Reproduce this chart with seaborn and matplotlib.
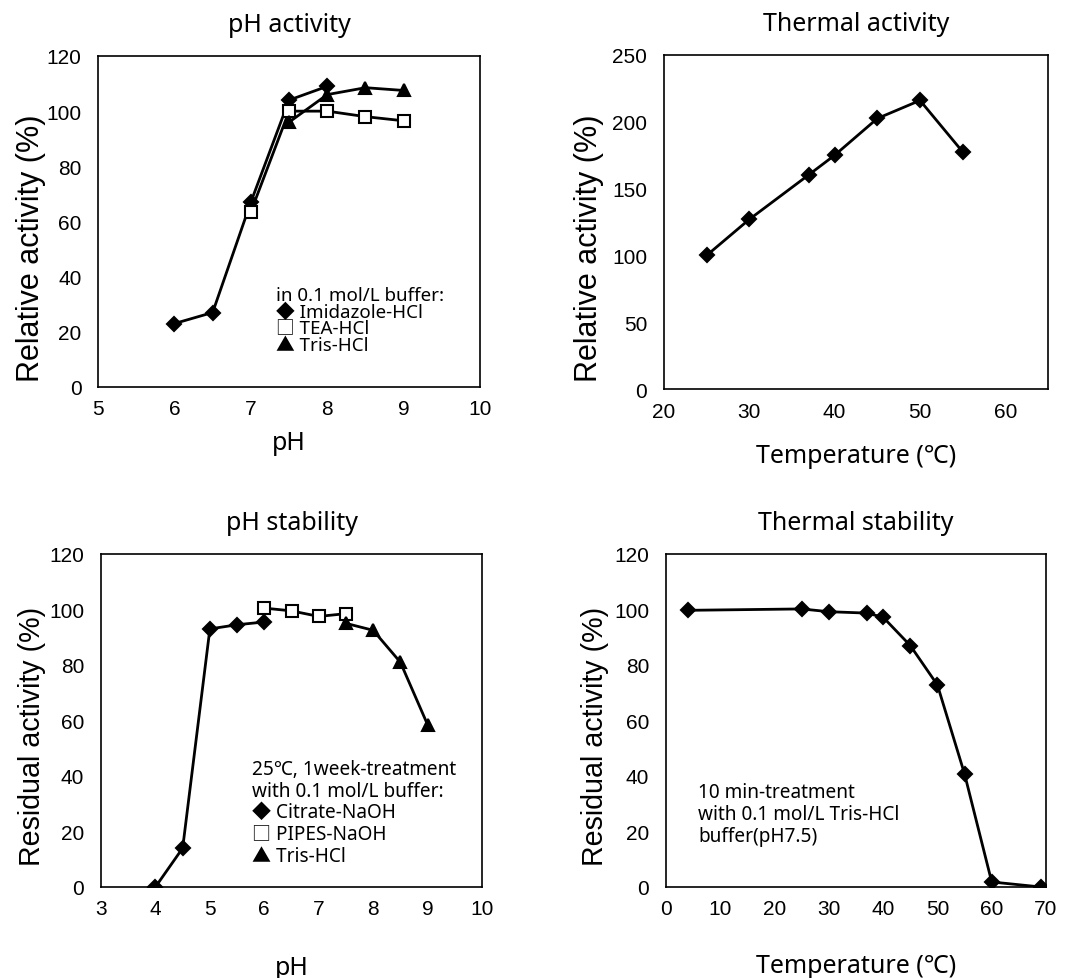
import numpy as np
import pandas as pd
import matplotlib
matplotlib.use('Agg')
import matplotlib.pyplot as plt
from matplotlib.ticker import MultipleLocator
import seaborn as sns

sns.set_style('white')
plt.rcParams['font.family'] = ['Noto Sans', 'Noto Sans CJK JP', 'DejaVu Sans']
plt.rcParams['text.color'] = 'black'
plt.rcParams['axes.labelcolor'] = 'black'
plt.rcParams['xtick.color'] = 'black'
plt.rcParams['ytick.color'] = 'black'

# pH activity
ph_imid_x = [6, 6.5, 7, 7.5, 8]
ph_imid_y = [23, 27, 67, 104, 109]
ph_tea_x = [7, 7.5, 8, 8.5, 9]
ph_tea_y = [63.5, 100, 100, 98, 96.5]
ph_tris_x = [7.5, 8, 8.5, 9]
ph_tris_y = [96, 106, 108.5, 107.5]

# Thermal activity
ta_x = [25, 30, 37, 40, 45, 50, 55]
ta_y = [100, 127, 160.5, 175, 202.5, 216, 177.5]

# pH stability
ps_cit_x = [4, 4.5, 5, 5.5, 6]
ps_cit_y = [0, 14, 93, 94.5, 95.5]
ps_pipes_x = [6, 6.5, 7, 7.5]
ps_pipes_y = [100.5, 99.5, 97.5, 98.5]
ps_tris_x = [7.5, 8, 8.5, 9]
ps_tris_y = [95, 92.5, 81, 58.5]

# Thermal stability
ts_x = [4, 25, 30, 37, 40, 45, 50, 55, 60, 69]
ts_y = [99.7, 100.2, 99.2, 98.7, 97.2, 87, 72.8, 40.7, 1.8, 0]

tick_font = 'Liberation Sans'


def series(ax, x, y, marker, face='black', ms=7):
    sns.lineplot(x=x, y=y, ax=ax, color='black', linewidth=2.0, marker=marker,
                 markersize=ms, markerfacecolor=face, markeredgecolor='black',
                 markeredgewidth=1.5, sort=False)


def style_axis(ax, xlim, ylim, xmaj, xmin, ymaj):
    ax.set_xlim(*xlim)
    ax.set_ylim(*ylim)
    ax.xaxis.set_major_locator(MultipleLocator(xmaj))
    ax.xaxis.set_minor_locator(MultipleLocator(xmin))
    ax.yaxis.set_major_locator(MultipleLocator(ymaj))
    ax.tick_params(axis='x', which='both', direction='in', length=5, width=1,
                   pad=9, labelsize=15)
    ax.tick_params(axis='y', which='both', direction='in', length=4, width=1,
                   pad=12, labelsize=15)
    for lab in ax.get_xticklabels() + ax.get_yticklabels():
        lab.set_fontfamily(tick_font)
    for sp in ax.spines.values():
        sp.set_visible(True)
        sp.set_color('black')
        sp.set_linewidth(1.2)
    ax.grid(False)


fig = plt.figure(figsize=(10.68, 9.79), dpi=100)
ax1 = fig.add_axes([0.0918, 0.6037, 0.3577, 0.3381])
ax2 = fig.add_axes([0.6217, 0.6016, 0.3596, 0.3412])
ax3 = fig.add_axes([0.0946, 0.0930, 0.3567, 0.3401])
ax4 = fig.add_axes([0.6236, 0.0930, 0.3558, 0.3401])

title_kw = dict(fontsize=18, pad=18)
xlabel_kw = dict(fontsize=18)
ylab_font = 'Liberation Sans'

# panel 1
series(ax1, ph_imid_x, ph_imid_y, 'D')
series(ax1, ph_tea_x, ph_tea_y, 's', face='white', ms=8)
series(ax1, ph_tris_x, ph_tris_y, '^', ms=9)
style_axis(ax1, (5, 10), (0, 120), 1, 0.5, 20)
ax1.set_title('pH activity', **title_kw)
ax1.set_xlabel('pH', labelpad=8, **xlabel_kw)
ax1.set_ylabel('Relative activity (%)', fontsize=22, fontfamily=ylab_font)
ax1.yaxis.set_label_coords(-0.135, 0.423)

# panel 2
series(ax2, ta_x, ta_y, 'D')
style_axis(ax2, (20, 65), (0, 250), 10, 5, 50)
ax2.set_title('Thermal activity', **title_kw)
ax2.set_xlabel('Temperature (℃)', labelpad=16, **xlabel_kw)
ax2.set_ylabel('Relative activity (%)', fontsize=22, fontfamily=ylab_font)
ax2.yaxis.set_label_coords(-0.155, 0.423)

# panel 3
series(ax3, ps_cit_x, ps_cit_y, 'D')
series(ax3, ps_pipes_x, ps_pipes_y, 's', face='white', ms=8)
series(ax3, ps_tris_x, ps_tris_y, '^', ms=9)
style_axis(ax3, (3, 10), (0, 120), 1, 0.5, 20)
ax3.set_title('pH stability', **title_kw)
ax3.set_xlabel('pH', labelpad=26, **xlabel_kw)
ax3.set_ylabel('Residual activity (%)', fontsize=20.6, fontfamily=ylab_font)
ax3.yaxis.set_label_coords(-0.145, 0.456)

# panel 4
series(ax4, ts_x, ts_y, 'D')
style_axis(ax4, (0, 70), (0, 120), 10, 10, 20)
ax4.set_title('Thermal stability', **title_kw)
ax4.set_xlabel('Temperature (℃)', labelpad=25, **xlabel_kw)
ax4.set_ylabel('Residual activity (%)', fontsize=20.6, fontfamily=ylab_font)
ax4.yaxis.set_label_coords(-0.15, 0.456)

# legends written as text, as in the original
ph_act_legend = ['in 0.1 mol/L buffer:', '◆ Imidazole-HCl', '□ TEA-HCl', '▲ Tris-HCl']
ph_stab_legend = ['25℃, 1week-treatment', 'with 0.1 mol/L buffer:',
                  '◆ Citrate-NaOH', '□ PIPES-NaOH', '▲ Tris-HCl']
therm_stab_note = ['10 min-treatment', 'with 0.1 mol/L Tris-HCl', 'buffer(pH7.5)']

ax1.text(0.466, 0.305, '\n'.join(ph_act_legend), transform=ax1.transAxes,
         fontsize=13.5, va='top', ha='left', linespacing=0.9)
ax3.text(0.396, 0.385, '\n'.join(ph_stab_legend), transform=ax3.transAxes,
         fontsize=13.7, va='top', ha='left', linespacing=1.12)
ax4.text(0.084, 0.315, '\n'.join(therm_stab_note), transform=ax4.transAxes,
         fontsize=13.7, va='top', ha='left', linespacing=1.12)

fig.savefig('out.png', dpi=100)
